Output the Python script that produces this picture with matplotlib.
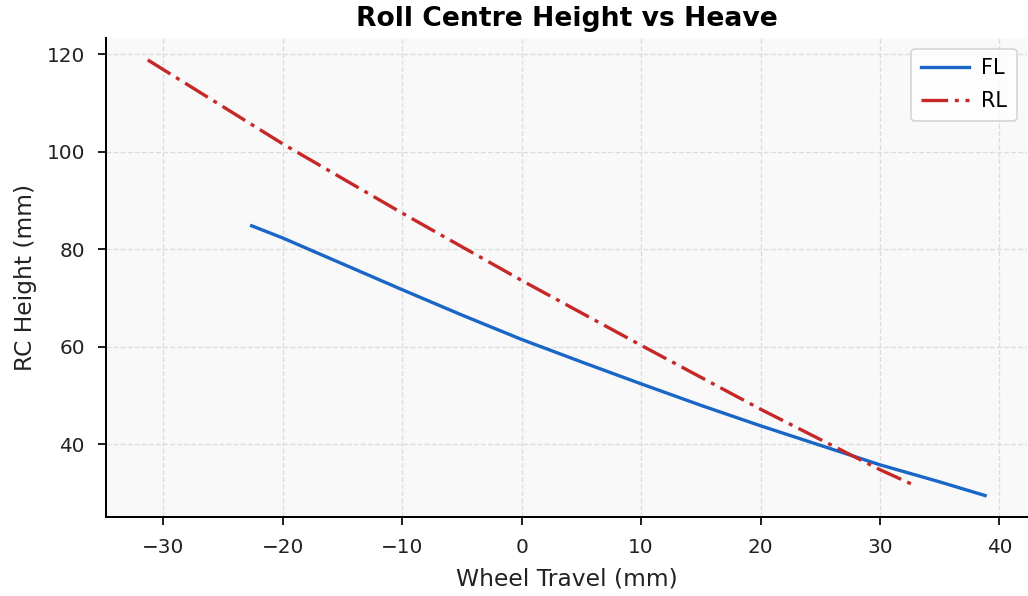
import numpy as np
import matplotlib
matplotlib.use("Agg")
import matplotlib.pyplot as plt

# Front left: wheel travel (mm) vs roll centre height (mm)
fl_travel = [-22.6, -20, -15, -10, -5, 0, 5, 10, 15, 20, 25, 30, 35, 38.8]
fl_rch = [84.8, 82.3, 77.0, 71.7, 66.5, 61.5, 56.9, 52.4, 48.0, 43.8, 39.8, 35.8, 32.3, 29.5]

# Rear left
rl_travel = [-31.3, -20, -10, 0, 10, 20, 30, 32.6]
rl_rch = [118.8, 101.6, 87.4, 73.6, 60.3, 47.2, 34.8, 31.9]

fig, ax = plt.subplots(figsize=(1028 / 120, 596 / 120), dpi=120)
fig.subplots_adjust(left=0.103, right=0.999, bottom=0.132, top=0.936)

ax.set_facecolor("#f9f9f9")
ax.plot(fl_travel, fl_rch, color="#1a66c6", lw=2, label="FL")
ax.plot(rl_travel, rl_rch, color="#c62828", lw=2, ls=(0, (8.0, 2.0, 1.2, 2.0)), label="RL")

ax.grid(True, ls="--", color="#dcdcdc", lw=0.8)
ax.set_axisbelow(True)
ax.spines["top"].set_visible(False)
ax.spines["right"].set_visible(False)
ax.spines["left"].set_linewidth(1.2)
ax.spines["bottom"].set_linewidth(1.2)
ax.tick_params(labelsize=12, width=1.2, length=5, pad=7.5, colors="#222222")

ax.set_title("Roll Centre Height vs Heave", fontsize=16, fontweight="bold", pad=7)
ax.set_xlabel("Wheel Travel (mm)", fontsize=14, color="#222222", labelpad=6)
ax.set_ylabel("RC Height (mm)", fontsize=14, color="#222222", labelpad=6)
ax.legend(fontsize=12.5, loc="upper right", handlelength=2.3, handletextpad=0.6,
          labelspacing=0.65, borderpad=0.45)

fig.savefig("out.png", dpi=120)
